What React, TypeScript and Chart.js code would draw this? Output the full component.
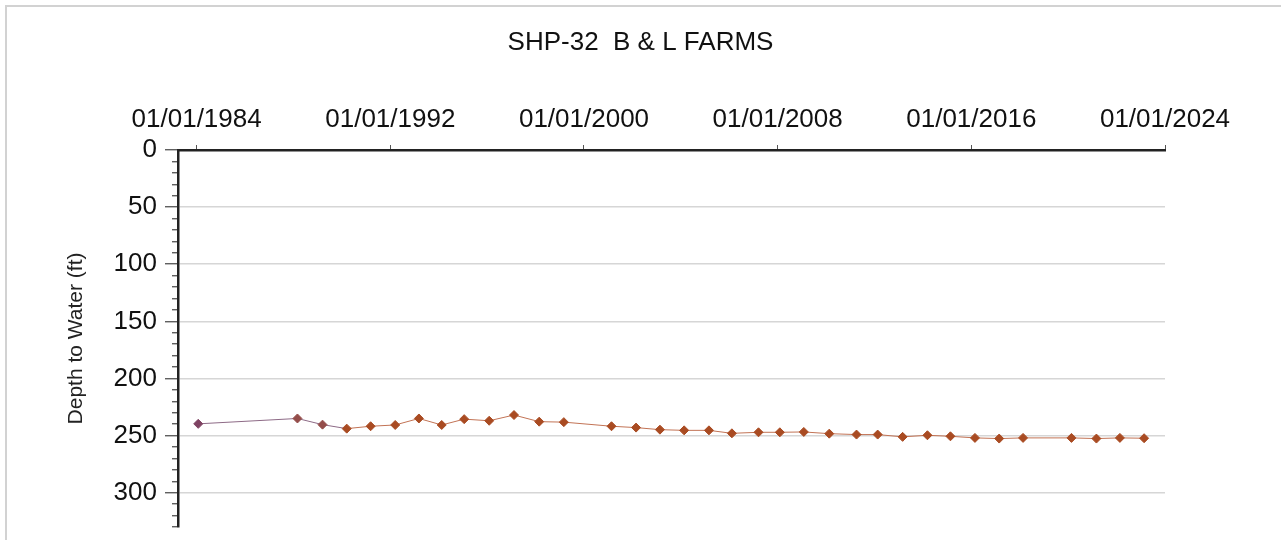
import React, { useEffect, useRef } from "react";
import { Chart, registerables } from "chart.js";

Chart.register(...registerables);

const CHART_TITLE = "SHP-32  B & L FARMS";
const Y_AXIS_TITLE = "Depth to Water (ft)";

const SAMPLE_DATES = [
  "1984-01-25", "1988-03-01", "1989-03-15", "1990-03-15", "1991-03-10",
  "1992-03-15", "1993-03-08", "1994-02-15", "1995-01-20", "1996-02-01",
  "1997-02-10", "1998-02-25", "1999-03-03", "2001-02-20", "2002-02-25",
  "2003-02-20", "2004-02-20", "2005-03-01", "2006-02-10", "2007-03-18",
  "2008-02-03", "2009-01-30", "2010-02-18", "2011-04-05", "2012-02-18",
  "2013-03-01", "2014-03-10", "2015-02-20", "2016-02-25", "2017-02-25",
  "2018-02-20", "2020-02-20", "2021-03-03", "2022-02-20", "2023-02-20",
];

const DEPTH_TO_WATER_FT = [
  239.7, 235.0, 240.4, 243.9, 241.8,
  240.7, 235.0, 240.7, 235.6, 237.0,
  232.0, 237.8, 238.2, 241.8, 243.0,
  244.8, 245.4, 245.4, 248.0, 247.1,
  247.1, 246.8, 248.3, 249.1, 249.1,
  251.1, 249.7, 250.6, 252.0, 252.6,
  252.0, 252.0, 252.6, 252.0, 252.3,
];

const X_TICK_YEARS = [1984, 1992, 2000, 2008, 2016, 2024];
const X_MIN_YEAR = 1983.23;
const X_MAX_YEAR = 2024;
const Y_MIN_FT = 0;
const Y_MAX_FT = 330;
const Y_MAJOR_STEP = 50;
const Y_MINOR_STEP = 10;

const FONT = "'Liberation Sans', Arial, Helvetica, sans-serif";

function toDecimalYear(s: string): number {
  const [y, m, d] = s.split("-").map(Number);
  const start = Date.UTC(y, 0, 1);
  const end = Date.UTC(y + 1, 0, 1);
  return y + (Date.UTC(y, m - 1, d) - start) / (end - start);
}

const framePlugin = {
  id: "outerFrame",
  beforeDraw(chart: any) {
    const c = chart.ctx;
    c.save();
    c.strokeStyle = "#d2d2d2";
    c.lineWidth = 2;
    c.beginPath();
    c.moveTo(6, chart.height);
    c.lineTo(6, 6);
    c.lineTo(chart.width, 6);
    c.stroke();
    c.restore();
  },
};

export default function App() {
  const canvasRef = useRef<HTMLCanvasElement | null>(null);

  useEffect(() => {
    document.body.style.margin = "0";
    document.body.style.background = "#ffffff";
    const canvas = canvasRef.current;
    if (!canvas) return;

    const points = SAMPLE_DATES.map((d, i) => ({
      x: toDecimalYear(d),
      y: DEPTH_TO_WATER_FT[i],
    }));

    const TITLE_SIZE = 26;
    const TITLE_PAD_TOP = 27;
    const titleBlock = TITLE_PAD_TOP + TITLE_SIZE * 1.2;

    const isMinor = (ctx: any) =>
      ctx.tick && ctx.tick.value % Y_MAJOR_STEP !== 0;

    const chart = new Chart(canvas, {
      type: "line",
      data: {
        datasets: [
          {
            data: points,
            borderColor: "#c27355",
            borderWidth: 1,
            tension: 0,
            pointStyle: "rectRot",
            pointRadius: 4.5,
            pointHoverRadius: 4.5,
            pointBorderWidth: 1,
            pointBackgroundColor: (ctx: any) =>
              ctx.dataIndex === 0 ? "#7e4262" : ctx.dataIndex < 3 ? "#944d4a" : "#a94b22",
            pointBorderColor: (ctx: any) =>
              ctx.dataIndex === 0 ? "#7e4262" : ctx.dataIndex < 3 ? "#944d4a" : "#a94b22",
            segment: {
              borderColor: (ctx: any) => (ctx.p0DataIndex < 3 ? "#8d6a86" : "#c27355"),
            },
          } as any,
        ],
      },
      options: {
        responsive: false,
        animation: false,
        devicePixelRatio: 1,
        layout: { padding: { left: 0, right: 0, top: 0, bottom: 13 } },
        plugins: {
          legend: { display: false },
          tooltip: { enabled: false },
          title: {
            display: true,
            text: CHART_TITLE,
            color: "#111111",
            font: { family: FONT, size: TITLE_SIZE, weight: "normal" },
            padding: { top: TITLE_PAD_TOP, bottom: 0 },
          },
        },
        scales: {
          x: {
            type: "linear",
            position: "top",
            min: X_MIN_YEAR,
            max: X_MAX_YEAR,
            afterBuildTicks: (s: any) => {
              s.ticks = X_TICK_YEARS.map((v) => ({ value: v }));
            },
            afterFit: (s: any) => {
              s.height = 150 - titleBlock;
            },
            ticks: {
              autoSkip: false,
              maxRotation: 0,
              padding: 10,
              color: "#111111",
              font: { family: FONT, size: 26 },
              callback: (v: any) => `01/01/${v}`,
            },
            grid: {
              drawOnChartArea: false,
              drawTicks: true,
              tickLength: 5,
              tickColor: "#555555",
              tickWidth: 1,
            },
            border: { display: true, color: "#222222", width: 2.5 },
          },
          y: {
            type: "linear",
            position: "left",
            reverse: true,
            min: Y_MIN_FT,
            max: Y_MAX_FT,
            weight: 1,
            afterBuildTicks: (s: any) => {
              const t: any[] = [];
              for (let v = Y_MIN_FT; v <= Y_MAX_FT; v += Y_MINOR_STEP) t.push({ value: v });
              s.ticks = t;
            },
            afterFit: (s: any) => {
              s.width = 178;
              s.paddingTop = 0;
              s.paddingBottom = 0;
            },
            ticks: {
              autoSkip: false,
              padding: 8,
              color: "#111111",
              font: { family: FONT, size: 26 },
              callback: (v: any) => (v % Y_MAJOR_STEP === 0 ? String(v) : ""),
            },
            grid: {
              color: (ctx: any) =>
                ctx.tick && ctx.tick.value % Y_MAJOR_STEP === 0 && ctx.tick.value !== 0
                  ? "#d6d6d6"
                  : "rgba(0,0,0,0)",
              lineWidth: 1.5,
              drawTicks: true,
              tickLength: 13,
              tickColor: "#444444",
              tickWidth: 1.2,
              tickBorderDash: (ctx: any) => (isMinor(ctx) ? [6, 7] : []),
              tickBorderDashOffset: (ctx: any) => (isMinor(ctx) ? 6 : 0),
            } as any,
            border: { display: true, color: "#222222", width: 2.5 },
            title: {
              display: true,
              text: Y_AXIS_TITLE,
              color: "#222222",
              font: { family: FONT, size: 21 },
              padding: { top: 64, bottom: 0 },
            },
          },
          spacer: {
            type: "linear",
            position: "right",
            display: true,
            grid: { display: false, drawTicks: false },
            ticks: { display: false },
            border: { display: false },
            afterFit: (s: any) => {
              s.width = 116;
            },
          } as any,
        },
      },
      plugins: [framePlugin],
    });

    return () => {
      chart.destroy();
    };
  }, []);

  return (
    <div style={{ width: 1281, height: 540, position: "relative", background: "#ffffff" }}>
      <canvas ref={canvasRef} width={1281} height={540} style={{ display: "block" }} />
    </div>
  );
}
